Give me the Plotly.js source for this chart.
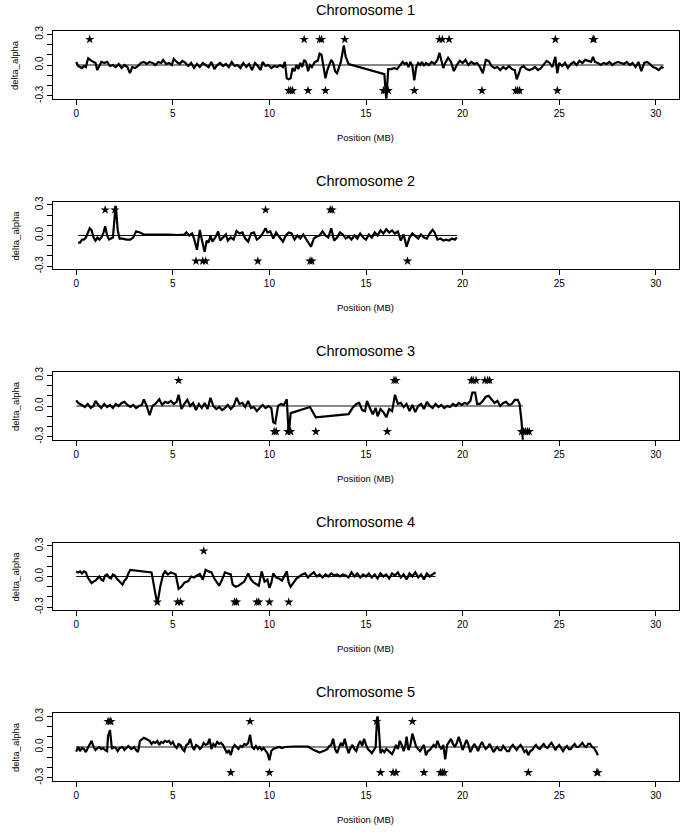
<!DOCTYPE html>
<html>
<head>
<meta charset="utf-8">
<script src="https://cdn.plot.ly/plotly-3.0.1.min.js"></script>
<style>html,body{margin:0;padding:0;background:#fff;}#chart{width:685px;height:836px;}</style>
</head>
<body>
<div id="chart"></div>
<script>
// ---------------- data ----------------
const chromNames = ["Chromosome 1", "Chromosome 2", "Chromosome 3", "Chromosome 4", "Chromosome 5"];
const xTickVals = [0, 5, 10, 15, 20, 25, 30];
const yTickVals = [-0.3, -0.2, -0.1, 0.0, 0.1, 0.2, 0.3];
const yTickText = ["-0.3", "", "", "0.0", "", "", "0.3"];
const starLevel = 0.25;

const chr1Pos = [0.00,0.10,0.20,0.30,0.40,0.50,0.62,0.70,0.80,0.90,1.00,1.09,1.20,1.30,1.45,1.60,1.75,1.90,2.05,2.20,2.35,2.50,2.65,2.78,2.90,3.05,3.20,3.35,3.50,3.65,3.80,3.95,4.10,4.25,4.40,4.50,4.65,4.80,4.95,5.05,5.20,5.35,5.50,5.65,5.80,5.95,6.10,6.25,6.40,6.55,6.70,6.85,7.00,7.15,7.30,7.45,7.60,7.75,7.90,8.05,8.20,8.35,8.50,8.65,8.80,8.95,9.10,9.25,9.40,9.55,9.65,9.80,9.95,10.10,10.25,10.40,10.55,10.70,10.80,10.90,11.00,11.10,11.20,11.30,11.40,11.50,11.60,11.70,11.80,11.90,12.00,12.10,12.20,12.35,12.50,12.60,12.70,12.80,12.90,13.00,13.10,13.20,13.30,13.40,13.50,13.60,13.70,13.85,13.95,14.10,15.85,15.95,16.05,16.15,16.30,16.45,16.60,16.75,16.90,17.00,17.10,17.20,17.30,17.40,17.50,17.60,17.70,17.80,17.90,18.00,18.10,18.25,18.40,18.55,18.70,18.80,18.90,19.00,19.10,19.25,19.40,19.55,19.70,19.85,20.00,20.15,20.30,20.45,20.60,20.75,20.90,21.05,21.20,21.35,21.50,21.65,21.80,21.95,22.10,22.25,22.40,22.55,22.70,22.80,22.90,23.00,23.15,23.30,23.45,23.60,23.75,23.90,24.05,24.20,24.35,24.50,24.65,24.80,24.90,25.00,25.15,25.30,25.45,25.60,25.75,25.90,26.05,26.20,26.35,26.50,26.65,26.75,26.85,27.00,27.15,27.30,27.45,27.60,27.75,27.90,28.05,28.20,28.35,28.50,28.65,28.80,28.95,29.10,29.25,29.40,29.55,29.70,29.85,30.00,30.15,30.30,30.40];
const chr1Delta = [0.03,-0.01,-0.02,-0.03,-0.01,-0.02,0.065,0.05,0.04,0.03,0.02,-0.05,-0.01,0.03,0.02,0.03,-0.01,0.00,-0.02,0.01,-0.03,0.00,-0.02,-0.08,-0.02,-0.03,-0.01,0.02,0.03,0.01,0.03,0.02,0.00,0.03,0.02,0.05,0.01,0.02,0.00,0.06,0.03,0.01,0.04,0.02,-0.01,0.02,-0.03,0.01,-0.02,0.02,0.00,-0.02,0.03,-0.04,0.00,0.02,-0.01,0.01,-0.02,0.03,-0.01,0.00,-0.03,0.02,-0.02,0.01,-0.05,0.02,-0.01,-0.05,0.03,-0.01,0.00,-0.03,-0.01,-0.02,0.00,-0.02,0.03,-0.13,-0.14,-0.13,-0.03,-0.06,0.00,-0.04,0.02,-0.02,0.05,0.03,-0.06,0.00,-0.02,0.03,0.04,0.11,0.10,0.00,-0.13,-0.05,0.00,0.05,0.02,-0.06,-0.08,-0.02,0.03,0.19,0.08,0.01,-0.08,-0.09,-0.34,-0.04,-0.04,-0.03,-0.04,0.00,0.03,0.01,0.02,-0.02,0.03,-0.01,-0.15,-0.02,0.02,0.00,0.03,-0.01,0.02,0.00,0.03,0.01,0.05,0.12,0.04,-0.03,0.02,0.07,0.03,-0.06,0.00,0.04,0.02,0.05,0.00,0.03,0.01,0.02,-0.02,-0.08,0.05,0.04,-0.01,-0.03,-0.02,-0.05,-0.02,-0.04,-0.01,-0.04,-0.05,-0.14,-0.09,-0.03,-0.01,-0.04,-0.05,-0.04,-0.02,-0.05,-0.03,0.00,0.04,0.02,-0.02,0.08,-0.08,0.02,-0.01,0.02,-0.03,0.01,0.03,0.00,0.04,0.02,0.05,0.04,0.03,0.08,0.03,0.02,0.00,0.02,0.01,0.03,0.00,0.02,0.03,0.02,0.01,0.03,0.00,0.02,-0.02,0.03,-0.06,0.02,0.03,0.01,-0.02,-0.03,-0.05,-0.02,-0.03];
const chr1StarsTop = [0.7, 11.8, 12.6, 12.7, 13.9, 18.8, 18.95, 19.3, 24.8, 26.75, 26.8];
const chr1StarsBottom = [11.0, 11.1, 11.2, 12.0, 12.9, 15.9, 16.0, 16.15, 17.5, 21.0, 22.75, 22.85, 22.95, 24.9];

const chr2Pos = [0.10,0.20,0.30,0.40,0.50,0.60,0.70,0.80,0.90,1.00,1.10,1.20,1.30,1.40,1.50,1.60,1.70,1.80,1.90,2.00,2.05,2.15,2.25,2.40,2.60,2.80,2.95,3.10,3.30,3.50,3.80,4.30,4.80,5.30,5.60,5.70,5.85,6.00,6.10,6.25,6.40,6.50,6.65,6.75,6.85,6.95,7.05,7.20,7.35,7.45,7.60,7.75,7.85,8.00,8.15,8.30,8.45,8.60,8.75,8.90,9.05,9.20,9.35,9.50,9.65,9.80,9.90,10.05,10.20,10.35,10.50,10.70,10.85,11.00,11.15,11.30,11.45,11.60,11.75,11.90,12.05,12.15,12.30,12.45,12.60,12.75,12.90,13.05,13.20,13.35,13.50,13.65,13.80,13.95,14.10,14.25,14.40,14.55,14.70,14.85,15.00,15.15,15.30,15.45,15.60,15.75,15.90,16.05,16.20,16.35,16.50,16.65,16.80,16.95,17.10,17.25,17.40,17.55,17.70,17.85,18.00,18.15,18.30,18.45,18.55,18.70,18.85,19.00,19.15,19.30,19.45,19.60,19.70];
const chr2Delta = [-0.07,-0.07,-0.04,-0.04,-0.02,0.02,0.07,0.05,-0.02,-0.05,-0.02,-0.04,-0.02,0.02,0.09,0.00,-0.04,-0.03,-0.02,0.20,0.29,0.05,-0.03,-0.03,-0.04,-0.04,-0.02,0.04,0.03,0.01,0.01,0.015,0.01,0.005,0.01,0.03,0.00,0.02,-0.03,-0.14,0.055,-0.04,-0.16,-0.05,-0.07,0.00,-0.06,-0.02,0.04,-0.05,-0.02,0.01,-0.05,-0.02,-0.04,0.045,0.02,0.03,-0.03,-0.06,0.02,0.03,-0.04,-0.02,0.02,0.07,0.03,0.04,-0.03,0.03,-0.01,-0.06,0.00,0.03,0.02,-0.04,0.00,-0.03,0.01,-0.04,-0.09,-0.11,-0.03,-0.01,0.00,0.04,0.00,-0.02,0.07,-0.05,-0.02,0.03,0.01,-0.03,-0.01,-0.04,0.00,-0.03,0.02,-0.02,-0.04,0.01,-0.02,0.03,0.00,0.05,0.02,0.06,0.03,0.05,0.02,0.04,-0.05,0.01,-0.11,-0.02,0.02,-0.01,-0.03,0.01,-0.02,-0.03,0.02,0.055,0.03,-0.04,-0.03,-0.05,-0.04,-0.05,-0.03,-0.04,-0.02];
const chr2StarsTop = [1.5, 2.0, 9.8, 13.15, 13.25];
const chr2StarsBottom = [6.2, 6.55, 6.7, 9.4, 12.1, 12.2, 17.15];

const chr3Pos = [0.00,0.10,0.20,0.30,0.45,0.60,0.75,0.90,1.00,1.15,1.30,1.45,1.60,1.75,1.90,2.05,2.20,2.35,2.50,2.65,2.80,2.95,3.10,3.25,3.40,3.50,3.65,3.80,3.95,4.10,4.30,4.45,4.60,4.75,4.90,5.05,5.20,5.30,5.45,5.60,5.75,5.90,6.05,6.20,6.35,6.50,6.65,6.80,6.95,7.10,7.25,7.40,7.55,7.70,7.85,8.00,8.15,8.30,8.45,8.60,8.75,8.90,9.05,9.20,9.35,9.50,9.65,9.80,9.95,10.10,10.20,10.30,10.45,10.60,10.75,10.90,11.00,11.10,12.10,12.40,14.10,14.30,14.50,14.65,14.80,14.95,15.05,15.20,15.35,15.50,15.60,15.75,15.90,16.05,16.20,16.35,16.50,16.65,16.80,16.95,17.10,17.25,17.40,17.55,17.70,17.85,18.00,18.15,18.30,18.45,18.60,18.75,18.90,19.05,19.20,19.35,19.50,19.65,19.80,19.95,20.10,20.25,20.40,20.50,20.65,20.75,20.90,21.05,21.20,21.35,21.50,21.65,21.80,21.95,22.10,22.25,22.40,22.55,22.70,22.85,22.95,23.05,23.12];
const chr3Delta = [0.055,0.03,0.02,0.01,-0.01,0.02,-0.02,0.00,0.05,0.01,-0.02,0.02,-0.01,0.01,-0.02,0.02,0.00,0.03,0.04,0.01,-0.01,0.01,-0.02,0.00,0.01,0.065,0.00,-0.09,0.00,0.02,0.065,0.01,0.04,0.03,0.05,0.02,0.04,0.11,-0.03,0.02,0.06,0.00,0.03,-0.04,0.02,-0.02,0.03,-0.03,0.08,0.00,-0.03,-0.01,-0.04,-0.02,0.01,-0.03,0.00,0.08,0.02,0.03,-0.01,0.05,-0.02,-0.01,-0.05,-0.02,0.01,-0.02,0.00,-0.02,-0.16,-0.17,0.00,0.02,0.01,0.065,-0.28,-0.07,-0.01,-0.11,-0.08,-0.02,0.02,0.03,-0.04,-0.05,0.05,-0.02,-0.08,-0.02,-0.10,-0.03,-0.06,-0.11,-0.03,-0.05,0.11,0.02,0.03,-0.01,0.02,-0.05,0.01,-0.06,0.00,0.02,-0.03,0.04,0.00,-0.02,0.02,-0.01,0.01,-0.02,0.00,-0.01,0.02,0.00,0.03,0.01,0.03,0.02,0.05,0.13,0.13,0.02,0.02,0.05,0.09,0.10,0.06,0.03,0.05,0.00,0.03,0.04,0.01,0.02,0.06,0.06,0.02,-0.15,-0.34];
const chr3StarsTop = [5.3, 16.45, 16.55, 20.45, 20.55, 20.7, 21.15, 21.3, 21.4];
const chr3StarsBottom = [10.25, 10.35, 10.95, 11.1, 12.4, 16.1, 23.05, 23.15, 23.25, 23.35, 23.45];

const chr4Pos = [0.00,0.10,0.20,0.30,0.40,0.50,0.60,0.70,0.80,0.90,1.00,1.10,1.20,1.30,1.40,1.50,1.60,1.70,1.80,1.90,2.00,2.10,2.20,2.30,2.40,2.50,2.60,2.70,2.80,3.90,4.00,4.10,4.20,4.35,4.50,4.60,4.75,4.90,5.05,5.15,5.30,5.45,5.60,5.80,5.95,6.10,6.25,6.40,6.55,6.70,6.85,7.00,7.15,7.30,7.40,7.55,7.70,7.85,8.00,8.10,8.25,8.40,8.55,8.70,8.90,9.05,9.20,9.35,9.45,9.60,9.75,9.90,10.00,10.10,10.20,10.35,10.50,10.65,10.80,10.90,11.00,11.10,11.25,11.40,11.55,11.70,11.85,12.00,12.15,12.30,12.45,12.60,12.75,12.90,13.05,13.20,13.35,13.50,13.65,13.80,13.95,14.10,14.25,14.40,14.55,14.70,14.85,15.00,15.15,15.30,15.45,15.60,15.75,15.90,16.05,16.20,16.35,16.50,16.65,16.80,16.95,17.10,17.25,17.40,17.55,17.70,17.85,18.00,18.15,18.30,18.45,18.60];
const chr4Delta = [0.05,0.04,0.05,0.03,0.05,0.04,-0.01,-0.04,-0.065,-0.05,-0.04,-0.02,0.00,-0.03,-0.04,0.01,0.02,-0.01,-0.02,0.02,0.01,-0.02,-0.04,-0.06,-0.08,-0.04,-0.02,0.03,0.065,0.04,-0.05,-0.17,-0.27,-0.10,0.02,0.05,0.02,0.04,0.03,0.02,-0.12,-0.10,-0.06,-0.045,0.00,-0.01,0.01,0.025,-0.03,0.065,0.05,0.04,-0.02,-0.06,-0.09,-0.03,0.04,0.03,0.02,-0.08,-0.10,-0.09,-0.07,-0.05,0.03,-0.03,-0.06,-0.08,-0.09,0.05,-0.05,-0.03,-0.11,-0.06,0.03,-0.01,-0.02,-0.04,0.01,0.05,-0.06,-0.10,-0.06,-0.02,0.00,0.02,0.03,-0.01,0.02,0.04,0.00,0.02,-0.01,0.02,0.00,0.03,0.01,0.02,0.00,0.02,0.01,-0.01,0.04,0.00,0.03,-0.01,0.02,0.00,0.03,-0.01,0.02,-0.02,0.03,0.00,0.02,-0.02,0.03,0.01,0.04,-0.01,0.02,-0.03,0.03,0.00,0.04,-0.01,0.02,-0.03,0.03,0.00,0.02,0.04];
const chr4StarsTop = [6.6];
const chr4StarsBottom = [4.2, 5.25, 5.4, 8.2, 8.3, 9.35, 9.45, 10.0, 11.0];

const chr5Pos = [0.00,0.10,0.20,0.30,0.40,0.50,0.60,0.70,0.80,0.90,1.00,1.10,1.20,1.30,1.40,1.50,1.60,1.65,1.75,1.85,1.95,2.05,2.15,2.25,2.40,2.50,2.60,2.70,2.85,3.00,3.10,3.20,3.30,3.40,3.50,3.60,3.70,3.80,3.90,4.00,4.10,4.20,4.30,4.40,4.50,4.60,4.70,4.80,4.90,5.00,5.10,5.20,5.30,5.40,5.50,5.60,5.70,5.80,5.90,6.00,6.10,6.20,6.30,6.40,6.50,6.60,6.70,6.80,6.90,7.00,7.10,7.20,7.30,7.40,7.50,7.60,7.70,7.80,7.90,8.00,8.10,8.20,8.30,8.40,8.50,8.60,8.70,8.80,8.90,9.00,9.10,9.20,9.30,9.40,9.50,9.60,9.70,9.80,9.90,10.00,10.10,10.20,10.35,10.50,10.65,10.80,11.30,12.00,12.30,12.60,12.80,13.00,13.10,13.20,13.30,13.40,13.50,13.60,13.70,13.80,13.90,14.00,14.10,14.20,14.30,14.40,14.50,14.60,14.70,14.80,14.90,15.00,15.10,15.20,15.30,15.40,15.50,15.55,15.60,15.65,15.75,15.85,15.95,16.05,16.15,16.25,16.35,16.45,16.55,16.65,16.75,16.85,16.95,17.05,17.10,17.20,17.30,17.40,17.50,17.60,17.70,17.80,17.90,18.00,18.10,18.20,18.30,18.40,18.50,18.60,18.70,18.80,18.90,19.00,19.10,19.20,19.30,19.40,19.50,19.60,19.70,19.80,19.90,20.00,20.10,20.20,20.30,20.40,20.50,20.60,20.70,20.80,20.90,21.00,21.10,21.20,21.30,21.40,21.50,21.60,21.70,21.80,21.90,22.00,22.10,22.20,22.30,22.40,22.50,22.60,22.70,22.80,22.90,23.00,23.10,23.20,23.30,23.40,23.50,23.60,23.70,23.80,23.90,24.00,24.10,24.20,24.30,24.40,24.50,24.60,24.70,24.80,24.90,25.00,25.10,25.20,25.30,25.40,25.50,25.60,25.70,25.80,25.90,26.00,26.10,26.20,26.30,26.40,26.50,26.60,26.70,26.80,26.90,27.00];
const chr5Delta = [-0.045,0.00,-0.04,-0.01,-0.02,-0.05,-0.01,0.03,0.06,0.00,-0.03,-0.01,0.00,-0.02,-0.01,-0.03,-0.04,0.11,0.165,-0.02,0.00,-0.01,-0.04,-0.01,0.00,-0.03,-0.01,0.01,-0.02,0.00,-0.03,-0.05,0.06,0.08,0.09,0.08,0.07,0.06,0.03,0.05,0.04,0.06,0.02,0.05,0.04,0.06,0.05,0.06,0.03,0.05,0.01,-0.01,0.03,0.02,-0.02,-0.04,0.02,0.03,0.08,0.01,-0.03,0.02,0.01,-0.02,0.00,0.04,0.02,0.03,0.08,-0.02,0.03,0.01,0.05,0.03,0.04,0.02,-0.02,-0.06,-0.03,-0.08,-0.01,0.02,0.00,-0.02,0.01,0.00,0.03,0.02,0.04,0.12,0.00,-0.02,0.01,-0.02,0.00,-0.03,-0.01,-0.04,-0.06,-0.13,-0.04,-0.02,-0.01,0.00,-0.01,0.00,0.005,0.005,-0.03,-0.055,-0.04,-0.02,0.01,0.02,0.08,-0.02,-0.06,0.00,0.04,0.01,0.08,0.00,-0.06,-0.01,0.02,-0.02,-0.04,0.02,0.06,0.01,0.08,0.02,-0.02,-0.04,-0.06,-0.03,0.00,0.20,0.30,0.22,-0.06,-0.03,-0.05,-0.02,-0.04,-0.05,-0.07,-0.03,0.02,-0.02,0.06,0.02,-0.04,0.03,0.10,-0.03,0.02,0.13,0.05,0.00,-0.02,-0.04,-0.01,0.02,-0.08,-0.04,-0.03,-0.01,0.02,0.00,0.06,0.01,-0.02,0.02,-0.12,0.02,0.05,0.08,0.03,0.00,0.04,0.10,0.04,-0.03,0.02,0.07,0.02,-0.05,-0.01,0.03,0.00,-0.04,0.01,0.05,0.01,-0.02,0.00,0.03,-0.01,-0.05,-0.02,0.00,-0.03,-0.03,0.01,-0.01,-0.04,-0.04,0.00,0.02,-0.01,-0.03,0.00,0.02,-0.01,-0.05,-0.03,-0.08,-0.04,-0.03,0.00,0.02,-0.01,-0.02,0.01,0.03,0.00,-0.01,0.02,0.04,0.01,-0.03,0.00,0.02,-0.01,-0.04,-0.01,0.01,-0.02,-0.02,0.01,0.03,0.00,0.00,0.02,0.04,0.01,0.00,0.03,0.03,0.00,-0.01,-0.04,-0.08];
const chr5StarsTop = [1.65, 1.75, 1.8, 9.0, 15.55, 17.4];
const chr5StarsBottom = [8.0, 10.0, 15.75, 16.4, 16.55, 18.0, 18.85, 18.95, 19.05, 23.4, 26.95, 27.0];

const allPos = [chr1Pos, chr2Pos, chr3Pos, chr4Pos, chr5Pos];
const allDelta = [chr1Delta, chr2Delta, chr3Delta, chr4Delta, chr5Delta];
const allTop = [chr1StarsTop, chr2StarsTop, chr3StarsTop, chr4StarsTop, chr5StarsTop];
const allBottom = [chr1StarsBottom, chr2StarsBottom, chr3StarsBottom, chr4StarsBottom, chr5StarsBottom];

// ---------------- layout geometry (pixels) ----------------
const W = 685, H = 836;
const boxLeft = 53, boxRight = 679;
const firstTop = 31.2, period = 170.5, boxH = 67.6;
const FONT = "Liberation Sans, Arial, Helvetica, sans-serif";

const traces = [];
const layout = {
  width: W, height: H,
  margin: {l: 0, r: 0, t: 0, b: 0},
  paper_bgcolor: "#ffffff", plot_bgcolor: "#ffffff",
  showlegend: false,
  font: {family: FONT, color: "#000", size: 10},
  annotations: []
};

for (let k = 0; k < 5; k++) {
  const sfx = k === 0 ? "" : String(k + 1);
  const top = firstTop + period * k;
  const bottom = top + boxH;
  const pos = allPos[k], del = allDelta[k];

  traces.push({
    x: [pos[0], pos[pos.length - 1]], y: [0, 0],
    xaxis: "x" + sfx, yaxis: "y" + sfx,
    mode: "lines", line: {color: "#111", width: 1}, hoverinfo: "skip"
  });
  traces.push({
    x: pos, y: del,
    xaxis: "x" + sfx, yaxis: "y" + sfx,
    mode: "lines", line: {color: "#000", width: 2.2, shape: "linear"}
  });
  traces.push({
    x: allTop[k], y: allTop[k].map(() => starLevel),
    xaxis: "x" + sfx, yaxis: "y" + sfx,
    mode: "markers", marker: {symbol: "star", size: 7, color: "#000"}, cliponaxis: false
  });
  traces.push({
    x: allBottom[k], y: allBottom[k].map(() => -starLevel),
    xaxis: "x" + sfx, yaxis: "y" + sfx,
    mode: "markers", marker: {symbol: "star", size: 7, color: "#000"}, cliponaxis: false
  });

  layout["xaxis" + sfx] = {
    domain: [boxLeft / W, boxRight / W],
    anchor: "y" + sfx,
    range: [-1.2, 31.2],
    tickmode: "array", tickvals: xTickVals, ticktext: xTickVals.map(String),
    ticks: "outside", ticklen: 5, tickwidth: 1, tickcolor: "#000",
    showline: true, mirror: true, linecolor: "#000", linewidth: 1,
    showgrid: false, zeroline: false,
    tickfont: {family: FONT, size: 10, color: "#000"}
  };
  layout["yaxis" + sfx] = {
    domain: [1 - bottom / H, 1 - top / H],
    anchor: "x" + sfx,
    range: [-0.33, 0.33],
    tickmode: "array", tickvals: yTickVals, ticktext: yTickText,
    tickangle: -90,
    ticks: "outside", ticklen: 5, tickwidth: 1, tickcolor: "#000",
    showline: true, mirror: true, linecolor: "#000", linewidth: 1,
    showgrid: false, zeroline: false,
    tickfont: {family: FONT, size: 10, color: "#000"}
  };

  layout.annotations.push({
    text: chromNames[k], xref: "paper", yref: "paper",
    x: (boxLeft + boxRight) / 2 / W, y: 1 - (top - 21) / H,
    xanchor: "center", yanchor: "middle", showarrow: false,
    font: {family: FONT, size: 14.5, color: "#000"}
  });
  layout.annotations.push({
    text: "Position (MB)", xref: "paper", yref: "paper",
    x: (boxLeft + boxRight) / 2 / W, y: 1 - (top + 106) / H,
    xanchor: "center", yanchor: "middle", showarrow: false,
    font: {family: FONT, size: 9.5, color: "#000"}
  });
  layout.annotations.push({
    text: "delta_alpha", xref: "paper", yref: "paper",
    x: 15 / W, y: 1 - (top + boxH / 2) / H,
    xanchor: "center", yanchor: "middle", showarrow: false, textangle: -90,
    font: {family: FONT, size: 9.5, color: "#000"}
  });
}

Plotly.newPlot("chart", traces, layout, {staticPlot: true, displayModeBar: false});
</script>
</body>
</html>
